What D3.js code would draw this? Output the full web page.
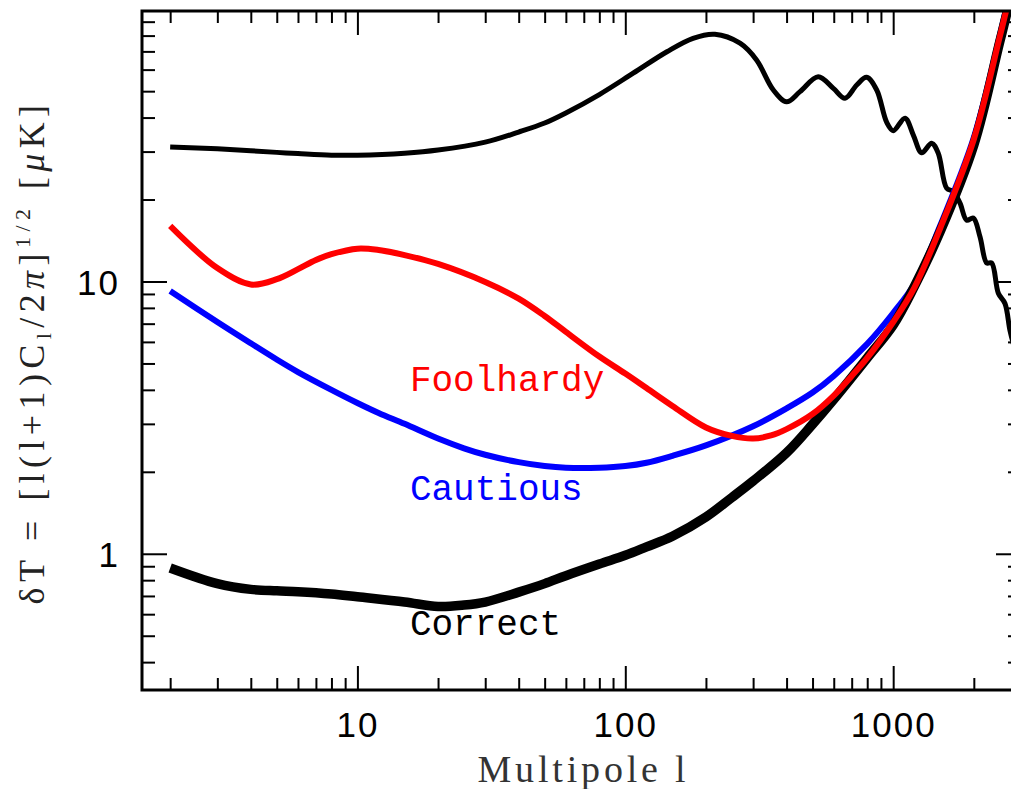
<!DOCTYPE html>
<html><head><meta charset="utf-8">
<script src="https://cdn.jsdelivr.net/npm/d3@7"></script>
<style>body{margin:0;background:#fff}svg{display:block}</style>
</head><body><svg id="c" width="1011" height="789"></svg>
<script>
// ---- data ----
const cmbL = [2,3,4,5,6,8,10,15,20,30,40,50,60,80,107,143,179,216,268,309,357,400,449,525,598,661,731,796,868,946,1001,1107,1189,1277,1392,1473,1584,1676,1776,1881,1991,2109,2234,2332,2469,2614,2730,2850];
const cmbT = [31.2,30.7,30.2,29.8,29.5,29.1,29.1,29.6,30.4,32.5,35.4,38.2,41.6,48.6,58.2,69.8,78.2,80.9,75,65.1,50.5,45.7,49.8,56.5,51.2,47.1,52.7,56.2,50.5,38.4,35.8,39.8,34.5,29.7,32.2,29.6,22.0,21.4,19.4,16.8,17.1,14.6,11.7,11.7,9.05,8.3,6.6,5.6];

const correctL = [2,3,4,5,6,8,10,15,20,25,30,40,50,60,80,100,120,150,200,250,300,400,500,600,800,1000,1200,1500,2000,2500,2700];
const correctT = [0.887,0.777,0.74,0.731,0.726,0.712,0.695,0.665,0.64,0.648,0.665,0.723,0.777,0.831,0.917,0.987,1.06,1.16,1.365,1.61,1.85,2.35,2.99,3.69,5.24,6.92,9.6,15.3,31.7,76,103];

const cautiousL = [2,3,4,5,6,8,10,12,15,20,25,30,40,50,60,80,100,120,150,200,300,400,500,600,800,1000,1200,1500,2000,2500,2700];
const cautiousT = [9.23,7.10,5.93,5.17,4.65,4.00,3.58,3.29,3.00,2.65,2.44,2.31,2.17,2.10,2.07,2.07,2.10,2.16,2.29,2.50,2.94,3.42,3.91,4.50,5.90,7.66,9.79,16.1,33.8,80,110];

const foolL = [2,3,4,5,6,7,8,10,12,15,20,30,40,50,60,80,100,120,150,200,250,300,350,400,500,600,700,800,1000,1200,1500,2000,2500,2700];
const foolT = [16.0,11.2,9.75,10.2,11.1,12.0,12.6,13.2,13.05,12.5,11.6,9.96,8.65,7.47,6.53,5.30,4.59,4.06,3.49,2.91,2.71,2.65,2.72,2.87,3.26,3.81,4.50,5.24,7.10,9.5,15.75,33.3,79.3,108];

const xMajor = [10,100,1000];
const xMinor = [2,3,4,5,6,7,8,9,20,30,40,50,60,70,80,90,200,300,400,500,600,700,800,900,2000];
const yMajor = [1,10];
const yMinor = [0.4,0.5,0.6,0.7,0.8,0.9,2,3,4,5,6,7,8,9,20,30,40,50,60,70,80,90];

const labels = [
  {text:"Foolhardy", l:15.7, v:3.96, color:"#ff0000"},
  {text:"Cautious", l:15.7, v:1.576, color:"#0000ff"},
  {text:"Correct", l:15.7, v:0.504, color:"#000000"}
];

// ---- chart ----
const svg = d3.select("#c");
const L=142, R=1021, T=11, B=690;
const x = d3.scaleLog().domain([1.57,3000]).range([L,R]);
const y = d3.scaleLog().domain([0.316,98.5]).range([B,T]);

svg.append("defs").append("clipPath").attr("id","clip")
  .append("rect").attr("x",L).attr("y",T).attr("width",R-L).attr("height",B-T);

const plot = svg.append("g").attr("clip-path","url(#clip)");
const line = d3.line().x(d=>x(d[0])).y(d=>y(d[1])).curve(d3.curveCatmullRom.alpha(0.5));

function draw(ls, vs, color, w){
  plot.append("path").datum(d3.zip(ls,vs)).attr("d",line)
    .attr("fill","none").attr("stroke",color).attr("stroke-width",w)
    .attr("stroke-linejoin","round").attr("stroke-linecap","butt");
}
draw(cmbL, cmbT, "#000", 5);
draw(cautiousL, cautiousT, "#0000ff", 6);
draw(correctL, correctT, "#000", 9.5);
draw(foolL, foolT, "#ff0000", 6);

// axes
function styleAxis(g){
  g.select(".domain").remove();
  g.selectAll(".tick line").attr("stroke","#000").attr("stroke-width",2);
}
function addAxis(gen, tr, vals, size, fmt){
  const g = svg.append("g").attr("transform",tr);
  g.call(gen.tickValues(vals).tickSize(size).tickSizeOuter(0).tickFormat(fmt||""));
  styleAxis(g);
  return g;
}
addAxis(d3.axisBottom(x), `translate(0,${B})`, xMinor, -12);
const gxb = addAxis(d3.axisBottom(x), `translate(0,${B})`, xMajor, -24, d3.format("d"));
addAxis(d3.axisTop(x), `translate(0,${T})`, xMinor, -12);
addAxis(d3.axisTop(x), `translate(0,${T})`, xMajor, -24);
addAxis(d3.axisLeft(y), `translate(${L},0)`, yMinor, -13);
const gyl = addAxis(d3.axisLeft(y), `translate(${L},0)`, yMajor, -25, d3.format("d"));
addAxis(d3.axisRight(y), `translate(${R},0)`, yMinor, -13);
addAxis(d3.axisRight(y), `translate(${R},0)`, yMajor, -25);

gxb.selectAll("text").attr("y",47).attr("dy","0")
  .style("font-family","'Liberation Sans', Arial, sans-serif").style("font-size","35px")
  .style("letter-spacing","2px").attr("fill","#000");
gyl.selectAll("text").attr("x",-22).attr("dy","0.37em")
  .style("font-family","'Liberation Sans', Arial, sans-serif").style("font-size","35px")
  .style("letter-spacing","2px").attr("fill","#000");

// frame
svg.append("rect").attr("x",L).attr("y",T).attr("width",R-L).attr("height",B-T)
  .attr("fill","none").attr("stroke","#000").attr("stroke-width",3);

// curve labels
svg.selectAll("text.lab").data(labels).join("text").attr("class","lab")
  .attr("x",d=>x(d.l)).attr("y",d=>y(d.v))
  .attr("fill",d=>d.color)
  .style("font-family","'Liberation Mono', 'Courier New', monospace").style("font-size","36px")
  .text(d=>d.text);

function fit(t, target){
  const n = t.text().length;
  const len = t.node().getComputedTextLength();
  const ls = (target - len)/n;
  t.style("letter-spacing", ls+"px");
}

// x title
const xt = svg.append("text").attr("x",(L+R)/2 + 2).attr("y",782).attr("text-anchor","middle")
  .attr("fill","#333").style("font-family","'Liberation Serif', 'Times New Roman', serif")
  .style("font-size","38px").text("Multipole l");
fit(xt, 212);

// y title
const yt = svg.append("text").attr("transform","translate(44,352) rotate(-90)")
  .attr("text-anchor","middle").attr("fill","#222")
  .style("font-family","'Liberation Serif', 'Times New Roman', serif").style("font-size","36px");
yt.append("tspan").text("δT = [l(l+1)C");
yt.append("tspan").attr("dy",7).style("font-size","22px").text("l");
yt.append("tspan").attr("dy",-7).text("/2");
yt.append("tspan").style("font-style","italic").text("π");
yt.append("tspan").text("]");
yt.append("tspan").attr("dy",-14).style("font-size","22px").text("1/2");
yt.append("tspan").attr("dy",14).text(" [");
yt.append("tspan").style("font-style","italic").text("μ");
yt.append("tspan").text("K]");
fit(yt, 505);
</script>
</body></html>
